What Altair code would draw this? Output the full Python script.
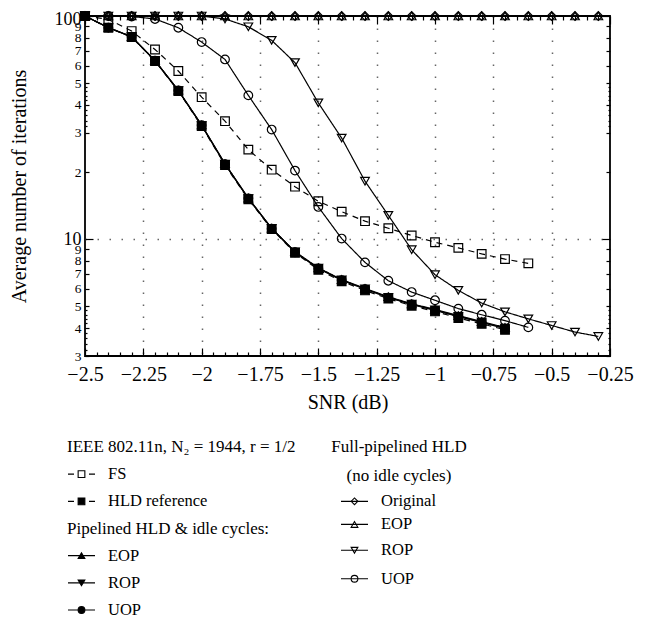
import altair as alt
import pandas as pd

# ---------------- data ----------------
SNR = [-2.5, -2.4, -2.3, -2.2, -2.1, -2.0, -1.9, -1.8, -1.7, -1.6, -1.5, -1.4,
       -1.3, -1.2, -1.1, -1.0, -0.9, -0.8, -0.7, -0.6, -0.5, -0.4, -0.3]

FS = [100, 96.6, 85.6, 70.8, 56.7, 43.3, 33.8, 25.2, 20.5, 17.2, 14.8, 13.3,
      12.05, 11.2, 10.4, 9.7, 9.15, 8.6, 8.15, 7.8]
HLD_REF = [100, 88.6, 80.5, 62.9, 46.1, 32.1, 21.5, 15.1, 11.1, 8.7, 7.3, 6.48,
           5.9, 5.42, 5.04, 4.75, 4.44, 4.18, 3.93]
PIP_EOP = [100, 88.8, 80.8, 63.2, 46.5, 32.5, 21.8, 15.3, 11.2, 8.8, 7.45, 6.6,
           6.02, 5.53, 5.14, 4.85, 4.55, 4.28, 4.03]
PIP_ROP = [100, 88.6, 80.6, 63.0, 46.3, 32.3, 21.7, 15.2, 11.2, 8.78, 7.42, 6.58,
           6.0, 5.5, 5.12, 4.83, 4.52, 4.26, 4.0]
PIP_UOP = [100, 88.7, 80.7, 63.1, 46.4, 32.4, 21.7, 15.25, 11.15, 8.75, 7.4, 6.55,
           5.98, 5.48, 5.1, 4.8, 4.5, 4.24, 3.98]
FULL_ORIG = [100, 100, 100, 100, 100, 100, 100, 100, 100, 100, 100, 100,
             100, 100, 100, 100, 100, 100, 100, 100, 100, 100, 100]
FULL_EOP = [100, 100, 100, 100, 100, 100, 100, 100, 100, 100, 100, 100,
            100, 100, 100, 100, 100, 100, 100, 100, 100, 100, 100]
FULL_ROP = [100, 100, 100, 100, 100, 100, 97, 89.5, 77.8, 61.8, 40.8, 28.4,
            18.2, 12.8, 8.98, 6.94, 5.9, 5.18, 4.73, 4.40, 4.11, 3.84, 3.67]
FULL_UOP = [100, 100, 99.5, 97, 88.6, 76.4, 63.9, 44.1, 31.0, 20.3, 13.96, 10.07,
            7.88, 6.52, 5.80, 5.33, 4.89, 4.59, 4.32, 4.03]

SERIES_KEYS = ["full_orig", "full_eop", "full_rop", "full_uop", "fs",
               "pip_eop", "pip_rop", "pip_uop", "hld_ref"]
SERIES_VALUES = [FULL_ORIG, FULL_EOP, FULL_ROP, FULL_UOP, FS,
                 PIP_EOP, PIP_ROP, PIP_UOP, HLD_REF]

# styles
SHAPES = ["diamond", "triangle-up", "triangle-down", "circle", "square",
          "triangle-up", "triangle-down", "circle", "square"]
FILLS = ["transparent", "transparent", "transparent", "transparent", "transparent",
         "black", "black", "black", "black"]
DASHES = [[1, 0], [1, 0], [1, 0], [1, 0], [6, 5], [1, 0], [1, 0], [1, 0], [6, 5]]
LEG_DASHES = [[1, 0], [1, 0], [1, 0], [1, 0], [6, 15], [1, 0], [1, 0], [1, 0], [6, 15]]

X_MAJOR = [-2.5, -2.25, -2.0, -1.75, -1.5, -1.25, -1.0, -0.75, -0.5, -0.25]
X_MINOR = [-2.45, -2.4, -2.35, -2.3, -2.2, -2.15, -2.1, -2.05, -1.95, -1.9, -1.85,
           -1.8, -1.7, -1.65, -1.6, -1.55, -1.45, -1.4, -1.35, -1.3, -1.2, -1.15,
           -1.1, -1.05, -0.95, -0.9, -0.85, -0.8, -0.7, -0.65, -0.6, -0.55, -0.45,
           -0.4, -0.35, -0.3]
Y_TICKS = [3, 4, 5, 6, 7, 8, 9, 10, 20, 30, 40, 50, 60, 70, 80, 90, 100]
Y_SUB = [3.2, 3.4, 3.6, 3.8, 4.2, 4.4, 4.6, 4.8, 32, 34, 36, 38, 42, 44, 46, 48]

# legend content
LEG_KEYS = ["fs", "hld_ref", "pip_eop", "pip_rop", "pip_uop",
            "full_orig", "full_eop", "full_rop", "full_uop"]
LEG_LABELS = ["FS", "HLD reference", "EOP", "ROP", "UOP",
              "Original", "EOP", "ROP", "UOP"]
LEG_COL = [0, 0, 0, 0, 0, 1, 1, 1, 1]
LEG_ROW = [1, 2, 4, 5, 6, 2, 2.85, 3.8, 4.85]
HDR_LABELS = ["IEEE 802.11n, N\u2082 = 1944, r = 1/2", "Pipelined HLD & idle cycles:",
              "Full-pipelined HLD", "(no idle cycles)"]
HDR_COL = [0, 0, 1, 1]
HDR_ROW = [0, 3, 0, 1.05]

FONT = "Liberation Serif"

rows = []
for k, vals in zip(SERIES_KEYS, SERIES_VALUES):
    for xv, yv in zip(SNR, vals):
        rows.append({"series": k, "x": xv, "y": yv})
df = pd.DataFrame(rows)

W, H = 525, 340
xs = alt.Scale(domain=[-2.5, -0.25], nice=False, zero=False)
ys = alt.Scale(type="log", domain=[3, 100], nice=False)

shape_scale = alt.Scale(domain=SERIES_KEYS, range=SHAPES)
fill_scale = alt.Scale(domain=SERIES_KEYS, range=FILLS)

x_main = alt.Axis(values=X_MAJOR, ticks=False, domain=False, grid=True,
                  gridDash=[1.5, 10.5], gridColor="#666", gridWidth=1.5,
                  gridOpacity={"condition": {"test": "datum.value < -2.49 || datum.value > -0.26", "value": 0}, "value": 1},
                  labelExpr="format(datum.value, '~g')", labelFont=FONT,
                  labelFontSize=20, labelColor="black", labelPadding=8,
                  labelFlush=False, labelOverlap=False,
                  title="SNR (dB)", titleFont=FONT, titleFontSize=20,
                  titleFontWeight="normal", titleColor="black", titlePadding=8)
y_main = alt.Axis(values=Y_TICKS, ticks=False, domain=False, grid=True,
                  gridDash=[1.5, 10.5], gridColor="#666", gridWidth=1.5,
                  gridOpacity={"condition": {"test": "datum.value == 10", "value": 1}, "value": 0},
                  labelExpr="datum.value > 10 && datum.value < 100 ? format(datum.value / 10, 'd') : format(datum.value, 'd')",
                  labelFont=FONT,
                  labelFontSize={"condition": {"test": "datum.value == 10 || datum.value == 100", "value": 18}, "value": 13.5},
                  labelOffset={"condition": {"test": "datum.value == 100", "value": 3}, "value": 0},
                  labelColor="black", labelPadding=4, labelOverlap=False, labelFlush=False,
                  title="Average number of iterations", titleFont=FONT, titleFontSize=20,
                  titleFontWeight="normal", titleColor="black", titlePadding=25)

lines = alt.Chart(df).mark_line(color="black", strokeWidth=1.2, clip=False).encode(
    x=alt.X("x:Q", scale=xs, axis=x_main),
    y=alt.Y("y:Q", scale=ys, axis=y_main),
    detail="series:N",
    strokeDash=alt.StrokeDash("series:N", scale=alt.Scale(domain=SERIES_KEYS, range=DASHES), legend=None),
)
points = alt.Chart(df).mark_point(filled=True, stroke="black", strokeWidth=1.2, size=75,
                                  opacity=1, clip=False).encode(
    x=alt.X("x:Q", scale=xs, axis=None),
    y=alt.Y("y:Q", scale=ys, axis=None),
    shape=alt.Shape("series:N", scale=shape_scale, legend=None),
    fill=alt.Fill("series:N", scale=fill_scale, legend=None),
)

tick_df = pd.DataFrame({"tx": [-2.5], "ty": [10]})


def tick_layer(x_orient, x_vals, x_size, y_orient, y_vals, y_size):
    common = dict(labels=False, domain=False, grid=False, title=None,
                  tickColor="black", tickWidth=1.2)
    return alt.Chart(tick_df).mark_point(opacity=0).encode(
        x=alt.X("tx:Q", scale=xs, axis=alt.Axis(orient=x_orient, offset=-H, values=x_vals,
                                                 tickSize=x_size, **common)),
        y=alt.Y("ty:Q", scale=ys, axis=alt.Axis(orient=y_orient, offset=-W, values=y_vals,
                                                 tickSize=y_size, **common)),
    )


ysize = {"condition": {"test": "datum.value == 10 || datum.value == 100", "value": 8}, "value": 4}
t1 = tick_layer("top", X_MINOR, 4, "right", Y_TICKS, ysize)
t2 = tick_layer("bottom", X_MINOR, 4, "left", Y_TICKS, ysize)
t3 = tick_layer("top", X_MAJOR, 8, "right", Y_SUB, 2)
t4 = tick_layer("bottom", X_MAJOR, 8, "left", Y_SUB, 2)

top = alt.layer(lines, t1, t2, t3, t4, points).resolve_axis(
    x="independent", y="independent").properties(width=W, height=H)

# ---------------- legend panel ----------------
leg_df = pd.DataFrame({"lkey": LEG_KEYS, "label": LEG_LABELS, "col": LEG_COL, "row": LEG_ROW})
hdr_df = pd.DataFrame({"label": HDR_LABELS, "col": HDR_COL, "row": HDR_ROW})

lxs = alt.Scale(domain=[0, 1], range=[-17, 256])
lys = alt.Scale(domain=[0, 6], range=[23, 186])

def lbase(d):
    return alt.Chart(d).encode(
        x=alt.X("col:Q", scale=lxs, axis=None),
        y=alt.Y("row:Q", scale=lys, axis=None),
    )

leg_line = lbase(leg_df).mark_point(shape="M-1,0L1,0", size=729, filled=False, stroke="black",
                                    strokeWidth=1.2, xOffset=13.5, opacity=1).encode(
    strokeDash=alt.StrokeDash("lkey:N", scale=alt.Scale(domain=SERIES_KEYS, range=LEG_DASHES), legend=None))
leg_mark = lbase(leg_df).mark_point(filled=True, stroke="black", strokeWidth=1.1, size=45,
                                    xOffset=13.5, opacity=1).encode(
    shape=alt.Shape("lkey:N", scale=shape_scale, legend=None),
    fill=alt.Fill("lkey:N", scale=fill_scale, legend=None))
leg_text = lbase(leg_df).mark_text(align="left", baseline="middle", dx=40, font=FONT,
                                   fontSize=16.5, color="black").encode(text="label:N")
hdr_left = lbase(hdr_df).transform_filter("datum.col == 0").mark_text(
    align="left", baseline="middle", dx=-1, font=FONT, fontSize=17, color="black").encode(text="label:N")
hdr_right = lbase(hdr_df).transform_filter("datum.col == 1").mark_text(
    align="center", baseline="middle", dx=58, font=FONT, fontSize=17, color="black").encode(text="label:N")

legend = alt.layer(leg_line, leg_mark, leg_text, hdr_left, hdr_right).properties(
    width=W, height=195, view=alt.ViewBackground(stroke="transparent"))

chart = alt.vconcat(top, legend, spacing=10).resolve_scale(
    x="independent", y="independent", strokeDash="independent"
).properties(
    padding={"left": 0, "top": 0, "right": 5, "bottom": 0}
).configure_view(stroke="black", strokeWidth=1.8)

chart.save("out.html", embed_options={"renderer": "svg", "actions": False})
